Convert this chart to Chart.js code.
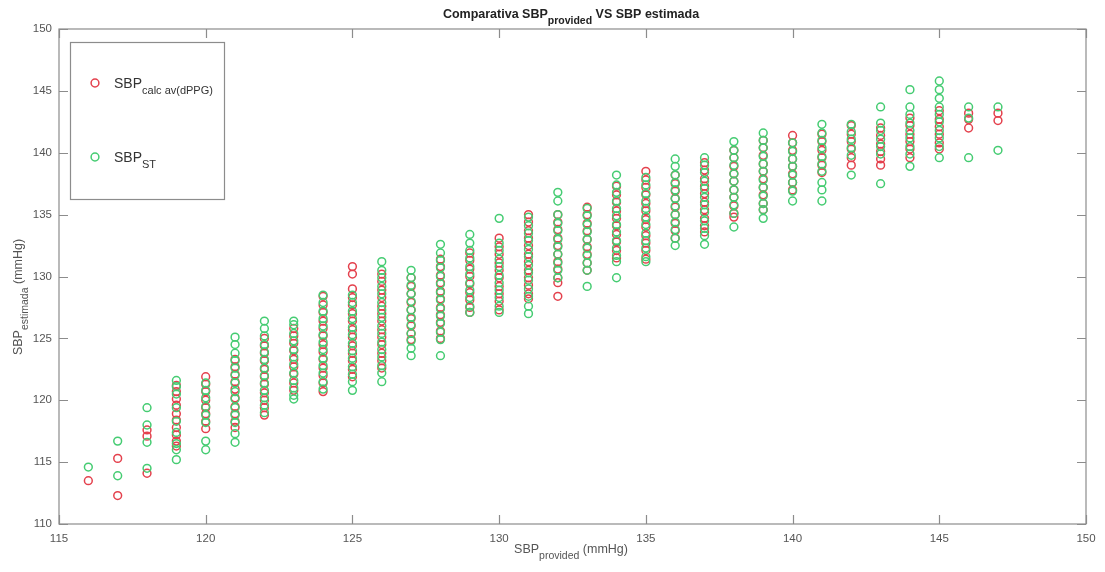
<!DOCTYPE html>
<html>
<head>
<meta charset="utf-8">
<script src="https://cdn.jsdelivr.net/npm/chart.js"></script>
<style>
html, body { margin: 0; padding: 0; background: #fff; }
#wrap { width: 1105px; height: 572px; }
</style>
</head>
<body>
<div id="wrap"><canvas id="chart" width="1105" height="572"></canvas></div>
<script>
// SBP provided values (x columns)
const sbpProvided = [116,117,118,119,120,121,122,123,124,125,126,127,128,129,130,131,
  132,133,134,135,136,137,138,139,140,141,142,143,144,145,146,147]

// SBP calc av(dPPG) - red, one list per column
const sbpCalcAv = [
  [113.5],
  [115.3,112.3],
  [117.6,117.1,114.1],
  [121.2,120.7,120.1,119.6,118.9,118.4,117.8,117.2,116.7,116.3],
  [121.9,121.3,120.7,120.0,119.4,118.9,118.3,117.7],
  [123.3,122.7,122.1,121.5,120.9,120.2,119.5,118.9,118.3,117.8],
  [125.0,124.4,123.8,123.2,122.5,121.9,121.3,120.6,120.0,119.4,118.8],
  [125.8,125.2,124.6,124.0,123.3,122.7,122.1,121.4,120.8],
  [128.4,127.7,127.1,126.4,125.8,125.2,124.5,123.9,123.3,122.6,122.0,121.4,120.7],
  [130.8,130.2,129.0,128.3,127.7,127.0,126.4,125.7,125.1,124.4,123.8,123.2,122.5,121.9],
  [130.2,129.6,128.9,128.3,127.6,127.0,126.4,125.7,125.1,124.5,123.8,123.2,122.6],
  [129.9,129.2,128.6,127.9,127.3,126.6,126.0,125.4,124.9],
  [131.4,130.8,130.1,129.5,128.8,128.2,127.5,126.9,126.3,125.6,125.0],
  [131.9,131.3,130.6,130.0,129.4,128.7,128.1,127.5,127.1],
  [133.1,132.4,131.8,131.1,130.5,129.9,129.2,128.6,128.0,127.3],
  [135.0,134.4,133.7,133.1,132.5,131.8,131.2,130.5,129.9,129.3,128.6,128.2],
  [135.0,134.4,133.8,133.1,132.5,131.8,131.2,130.6,129.9,129.5,128.4],
  [135.6,135.0,134.3,133.7,133.0,132.4,131.8,131.1,130.5],
  [137.3,136.6,136.0,135.3,134.7,134.1,133.4,132.8,132.1,131.5],
  [138.5,137.8,137.2,136.6,135.9,135.3,134.6,134.0,133.3,132.7,132.1,131.4],
  [138.2,137.5,136.9,136.3,135.6,135.0,134.3,133.7,133.1],
  [139.2,138.6,137.9,137.3,136.7,136.0,135.4,134.7,134.1,133.6],
  [140.2,139.6,138.9,138.3,137.7,137.0,136.4,135.7,135.1,134.8],
  [141.0,140.4,139.8,139.1,138.5,137.9,137.2,136.6,135.9,135.4],
  [141.4,140.8,140.2,139.5,138.9,138.3,137.6,137.0],
  [141.5,140.9,140.2,139.6,139.0,138.4],
  [142.2,141.5,140.9,140.3,139.6,139.0],
  [142.0,141.4,140.7,140.1,139.5,139.0],
  [142.8,142.2,141.5,140.9,140.3,139.6],
  [143.4,142.7,142.1,141.5,140.8,140.3],
  [143.2,142.7,142.0],
  [143.2,142.6]
]

// SBP ST - green, one list per column
const sbpST = [
  [114.6],
  [116.7,113.9],
  [119.4,118.0,116.6,114.5],
  [121.6,121.1,120.5,119.4,118.3,117.4,116.5,116.0,115.2],
  [121.4,120.8,120.2,119.5,118.8,118.2,116.7,116.0],
  [125.1,124.5,123.8,123.2,122.6,122.0,121.4,120.7,120.1,119.4,118.8,118.2,117.3,116.6],
  [126.4,125.8,125.2,124.5,123.9,123.3,122.6,122.0,121.4,120.8,120.2,119.6,119.0],
  [126.4,126.1,125.4,124.8,124.1,123.5,122.9,122.2,121.6,121.0,120.4,120.1],
  [128.5,127.9,127.2,126.6,126.0,125.3,124.7,124.1,123.4,122.8,122.2,121.5,120.9],
  [128.5,127.9,127.2,126.6,125.9,125.3,124.6,124.0,123.4,122.7,122.1,121.5,120.8],
  [131.2,130.5,129.9,129.2,128.6,127.9,127.3,126.7,126.0,125.4,124.7,124.1,123.5,122.8,122.2,121.5],
  [130.5,129.9,129.3,128.6,128.0,127.3,126.7,126.1,125.4,124.8,124.2,123.6],
  [132.6,131.9,131.3,130.7,130.0,129.4,128.7,128.1,127.4,126.8,126.2,125.5,124.9,123.6],
  [133.4,132.7,132.1,131.5,130.8,130.2,129.5,128.9,128.3,127.6,127.1],
  [134.7,132.7,132.1,131.4,130.8,130.1,129.5,128.9,128.3,127.6,127.1],
  [134.8,134.1,133.5,132.9,132.2,131.6,130.9,130.3,129.7,129.0,128.4,127.6,127.0],
  [136.8,136.1,135.0,134.3,133.7,133.0,132.4,131.8,131.1,130.5,129.9],
  [135.5,134.9,134.2,133.6,133.0,132.3,131.7,131.1,130.5,129.2],
  [138.2,137.4,136.8,136.1,135.5,134.9,134.2,133.6,132.9,132.3,131.7,131.2,129.9],
  [138.0,137.4,136.7,136.1,135.5,134.8,134.2,133.5,132.9,132.3,131.6,131.2],
  [139.5,138.9,138.2,137.6,137.0,136.3,135.7,135.0,134.4,133.8,133.1,132.5],
  [139.6,139.0,138.4,137.7,137.1,136.4,135.8,135.2,134.5,133.9,133.3,132.6],
  [140.9,140.2,139.6,139.0,138.3,137.7,137.0,136.4,135.8,135.1,134.0],
  [141.6,141.0,140.4,139.7,139.1,138.5,137.8,137.2,136.5,135.9,135.4,134.7],
  [140.8,140.1,139.5,138.9,138.2,137.6,136.9,136.1],
  [142.3,141.6,141.0,140.4,139.7,139.1,138.5,137.6,137.0,136.1],
  [142.3,141.7,141.1,140.4,139.8,138.2],
  [143.7,142.4,141.8,141.1,140.5,139.9,137.5],
  [145.1,143.7,143.1,142.4,141.8,141.2,140.5,139.9,138.9],
  [145.8,145.1,144.4,143.7,143.1,142.5,141.8,141.2,140.5,139.6],
  [143.7,142.8,139.6],
  [143.7,140.2]
]

const xTicks = [115,120,125,130,135,140,145,150]
const yTicks = [110,115,120,125,130,135,140,145,150]

const redColor = "#e4414d"
const greenColor = "#45cc72"
const axisColor = "#8c8c8c"
const textColor = "#555555"
const fontName = "'Liberation Sans', Arial, Helvetica, sans-serif"

function toPoints(lists){
  const pts = []
  lists.forEach((col, i) => {
    col.forEach(v => pts.push({ x: sbpProvided[i], y: v }))
  })
  return pts
}

// text with a subscript part
function drawSub(ctx, x, y, base, sub, rest, size, subSize, bold, align){
  const w = bold ? "bold " : ""
  ctx.font = w + size + "px " + fontName
  const w1 = ctx.measureText(base).width
  ctx.font = w + subSize + "px " + fontName
  const w2 = ctx.measureText(sub).width
  ctx.font = w + size + "px " + fontName
  const w3 = ctx.measureText(rest).width
  const total = w1 + w2 + w3
  let sx = x
  if(align === "center") sx = x - total / 2
  ctx.textAlign = "left"
  ctx.textBaseline = "alphabetic"
  ctx.font = w + size + "px " + fontName
  ctx.fillText(base, sx, y)
  ctx.font = w + subSize + "px " + fontName
  ctx.fillText(sub, sx + w1, y + size * 0.45)
  ctx.font = w + size + "px " + fontName
  ctx.fillText(rest, sx + w1 + w2, y)
}

// box, inside ticks, title, axis labels and legend in MATLAB style
const decor = {
  id: "decor",
  afterDraw(chart){
    const ctx = chart.ctx
    const a = chart.chartArea
    const xs = chart.scales.x
    const ys = chart.scales.y
    ctx.save()
    ctx.strokeStyle = axisColor
    ctx.lineWidth = 1.2
    ctx.strokeRect(a.left, a.top, a.right - a.left, a.bottom - a.top)
    ctx.beginPath()
    xTicks.forEach(t => {
      const px = Math.round(xs.getPixelForValue(t)) + 0.5
      ctx.moveTo(px, a.bottom); ctx.lineTo(px, a.bottom - 9)
      ctx.moveTo(px, a.top); ctx.lineTo(px, a.top + 9)
    })
    yTicks.forEach(t => {
      const py = Math.round(ys.getPixelForValue(t)) + 0.5
      ctx.moveTo(a.left, py); ctx.lineTo(a.left + 9, py)
      ctx.moveTo(a.right, py); ctx.lineTo(a.right - 9, py)
    })
    ctx.stroke()

    // title
    ctx.fillStyle = "#222"
    drawSub(ctx, 571, 18, "Comparativa SBP", "provided", " VS SBP estimada", 12.5, 10.5, true, "center")

    // x label
    ctx.fillStyle = textColor
    drawSub(ctx, 571, 553, "SBP", "provided", " (mmHg)", 12.5, 10.5, false, "center")

    // y label
    ctx.save()
    ctx.translate(22, 297)
    ctx.rotate(-Math.PI / 2)
    drawSub(ctx, 0, 0, "SBP", "estimada", " (mmHg)", 12.5, 10.5, false, "center")
    ctx.restore()

    // legend
    ctx.fillStyle = "#fff"
    ctx.fillRect(70, 42, 154, 157)
    ctx.strokeStyle = axisColor
    ctx.lineWidth = 1.2
    ctx.strokeRect(70.5, 42.5, 154, 157)
    ctx.lineWidth = 1.5
    ctx.strokeStyle = redColor
    ctx.beginPath(); ctx.arc(95, 83, 3.9, 0, Math.PI * 2); ctx.stroke()
    ctx.strokeStyle = greenColor
    ctx.beginPath(); ctx.arc(95, 157, 3.9, 0, Math.PI * 2); ctx.stroke()
    ctx.fillStyle = "#333"
    drawSub(ctx, 114, 88, "SBP", "calc av(dPPG)", "", 14, 11, false, "left")
    drawSub(ctx, 114, 162, "SBP", "ST", "", 14, 11, false, "left")
    ctx.restore()
  }
}

const chart = new Chart(document.getElementById("chart"), {
  type: "scatter",
  data: {
    datasets: [
      {
        label: "SBP calc av(dPPG)",
        data: toPoints(sbpCalcAv),
        borderColor: redColor,
        backgroundColor: "rgba(0,0,0,0)",
        borderWidth: 1.5,
        pointRadius: 3.9,
        order: 1
      },
      {
        label: "SBP ST",
        data: toPoints(sbpST),
        borderColor: greenColor,
        backgroundColor: "rgba(0,0,0,0)",
        borderWidth: 1.5,
        pointRadius: 3.9,
        order: 0
      }
    ]
  },
  options: {
    responsive: false,
    animation: false,
    layout: { padding: { top: 29, right: 19, left: 0, bottom: 0 } },
    plugins: {
      legend: { display: false },
      title: { display: false },
      tooltip: { enabled: false }
    },
    scales: {
      x: {
        type: "linear",
        min: 115, max: 150,
        afterFit: s => { s.height = 48 },
        afterBuildTicks: s => { s.ticks = xTicks.map(v => ({ value: v })) },
        grid: { display: false, drawTicks: false },
        border: { display: false },
        ticks: { padding: 8, color: textColor, font: { family: fontName, size: 11.5 } }
      },
      y: {
        type: "linear",
        min: 110, max: 150,
        afterFit: s => { s.width = 59 },
        afterBuildTicks: s => { s.ticks = yTicks.map(v => ({ value: v })) },
        grid: { display: false, drawTicks: false },
        border: { display: false },
        ticks: { padding: 7, color: textColor, font: { family: fontName, size: 11.5 } }
      }
    }
  },
  plugins: [decor]
})
</script>
</body>
</html>
